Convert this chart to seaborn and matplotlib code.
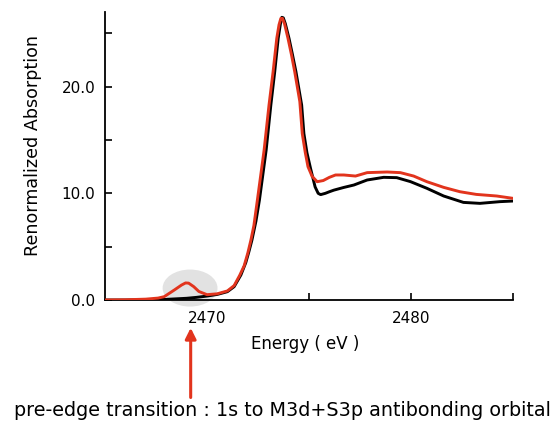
#XANES spectra: renormalized absorption vs energy, pre-edge feature highlighted
import numpy as np
import pandas as pd
import matplotlib
matplotlib.use("Agg")
import matplotlib.pyplot as plt
from matplotlib.patches import Ellipse
import seaborn as sns

#Values
energy_black = [2465.0, 2466.0, 2467.0, 2468.0, 2469.0, 2469.5, 2470.0, 2470.5, 2471.0, 2471.33,
                2471.66, 2471.9, 2472.05, 2472.2, 2472.4, 2472.57, 2472.72, 2472.9, 2473.13, 2473.32,
                2473.49, 2473.6, 2473.67, 2473.74, 2473.84, 2474.02, 2474.19, 2474.36, 2474.64, 2474.75,
                2474.9, 2475.08, 2475.3, 2475.45, 2475.57, 2475.8, 2476.0, 2476.22, 2476.7, 2477.2,
                2477.85, 2478.66, 2479.3, 2479.97, 2480.78, 2481.6, 2482.57, 2483.38, 2484.36, 2485.0]
absorb_black = [0.0, 0.0, 0.02, 0.06, 0.16, 0.25, 0.37, 0.52, 0.78, 1.25,
                2.34, 3.5, 4.5, 5.6, 7.4, 9.37, 11.5, 14.06, 18.28, 21.4,
                24.53, 25.9, 26.5, 26.45, 25.9, 24.53, 23.0, 21.4, 18.28, 15.6,
                13.8, 12.3, 10.6, 10.0, 9.88, 10.0, 10.15, 10.3, 10.55, 10.78,
                11.25, 11.5, 11.47, 11.1, 10.47, 9.75, 9.15, 9.06, 9.22, 9.28]

energy_red = [2465.0, 2466.0, 2467.0, 2467.6, 2467.9, 2468.4, 2468.75, 2468.95, 2469.1, 2469.35,
              2469.6, 2470.0, 2470.5, 2471.0, 2471.33, 2471.6, 2471.82, 2472.0, 2472.15, 2472.3,
              2472.47, 2472.62, 2472.8, 2473.04, 2473.24, 2473.42, 2473.53, 2473.62, 2473.7, 2473.8,
              2473.97, 2474.14, 2474.3, 2474.55, 2474.67, 2474.82, 2474.95, 2475.15, 2475.4, 2475.7,
              2476.0, 2476.3, 2476.71, 2477.28, 2477.85, 2478.83, 2479.48, 2480.13, 2480.78, 2481.6,
              2482.4, 2483.2, 2484.2, 2485.0]
absorb_red = [0.0, 0.02, 0.08, 0.18, 0.31, 0.94, 1.4, 1.6, 1.58, 1.25,
              0.8, 0.5, 0.58, 0.85, 1.35, 2.3, 3.2, 4.4, 5.6, 7.0,
              9.37, 11.5, 14.06, 18.28, 21.4, 24.53, 25.8, 26.4, 26.4, 25.9,
              24.53, 23.0, 21.4, 18.6, 15.6, 13.8, 12.5, 11.6, 11.09, 11.2,
              11.5, 11.72, 11.72, 11.62, 11.94, 12.0, 11.94, 11.62, 11.09, 10.56,
              10.15, 9.9, 9.75, 9.53]

x_major = [2470, 2480]
x_minor = [2475, 2485]
y_major = [0, 10, 20]
y_minor = [5, 15, 25]
y_labels = ['0.0', '10.0', '20.0']

red = '#e2341d'

sns.set_style('ticks')
plt.rcParams['font.family'] = ['DejaVu Sans']

fig = plt.figure(figsize=(5.58, 4.22), dpi=100)
ax = fig.add_axes([105/558, 1-300/422, 408/558, 288/422])

df_black = pd.DataFrame({'Energy': energy_black, 'Abs': absorb_black})
df_red = pd.DataFrame({'Energy': energy_red, 'Abs': absorb_red})

#Gray halo around the pre-edge peak
ax.add_patch(Ellipse((2469.17, 1.12), width=2.69, height=3.47, facecolor='#e2e2e2',
                     edgecolor='none', clip_on=False, zorder=1))

sns.lineplot(data=df_black, x='Energy', y='Abs', ax=ax, color='black', lw=2.1, zorder=3, sort=False)
sns.lineplot(data=df_red, x='Energy', y='Abs', ax=ax, color=red, lw=2.1, zorder=4, sort=False)
for ln in ax.lines:
    ln.set_solid_joinstyle('round')

ax.set_xlim(2465, 2485)
ax.set_ylim(0, 27)
ax.set_xticks(x_major)
ax.set_xticklabels([str(v) for v in x_major])
ax.set_xticks(x_minor, minor=True)
ax.set_yticks(y_major)
ax.set_yticklabels(y_labels)
ax.set_yticks(y_minor, minor=True)
sns.despine(ax=ax)
ax.tick_params(which='both', direction='in', length=5, width=1.2, color='black',
               labelsize=11, labelcolor='black')
ax.tick_params(axis='y', which='both', pad=7)
ax.tick_params(axis='x', which='both', pad=8)
for s in ['left', 'bottom']:
    ax.spines[s].set_color('black')
    ax.spines[s].set_linewidth(1.3)

ax.set_xlabel('Energy ( eV )', fontsize=12, color='black')
ax.set_ylabel('Renormalized Absorption', fontsize=12.6, color='black')
ax.xaxis.set_label_coords(0.49, -0.12)
ax.yaxis.set_label_coords(-0.155, 0.535)

#Arrow pointing at the pre-edge peak and its caption
ax.annotate('', xy=(2469.2, -2.35), xytext=(2469.2, -9.4),
            arrowprops=dict(arrowstyle='-|>', color=red, lw=2.2, mutation_scale=16),
            annotation_clip=False)
fig.text(0.506, 0.028, 'pre-edge transition : 1s to M3d+S3p antibonding orbital',
         ha='center', va='center', fontsize=13.8, color='black')

plt.savefig('out.png', dpi=100)
